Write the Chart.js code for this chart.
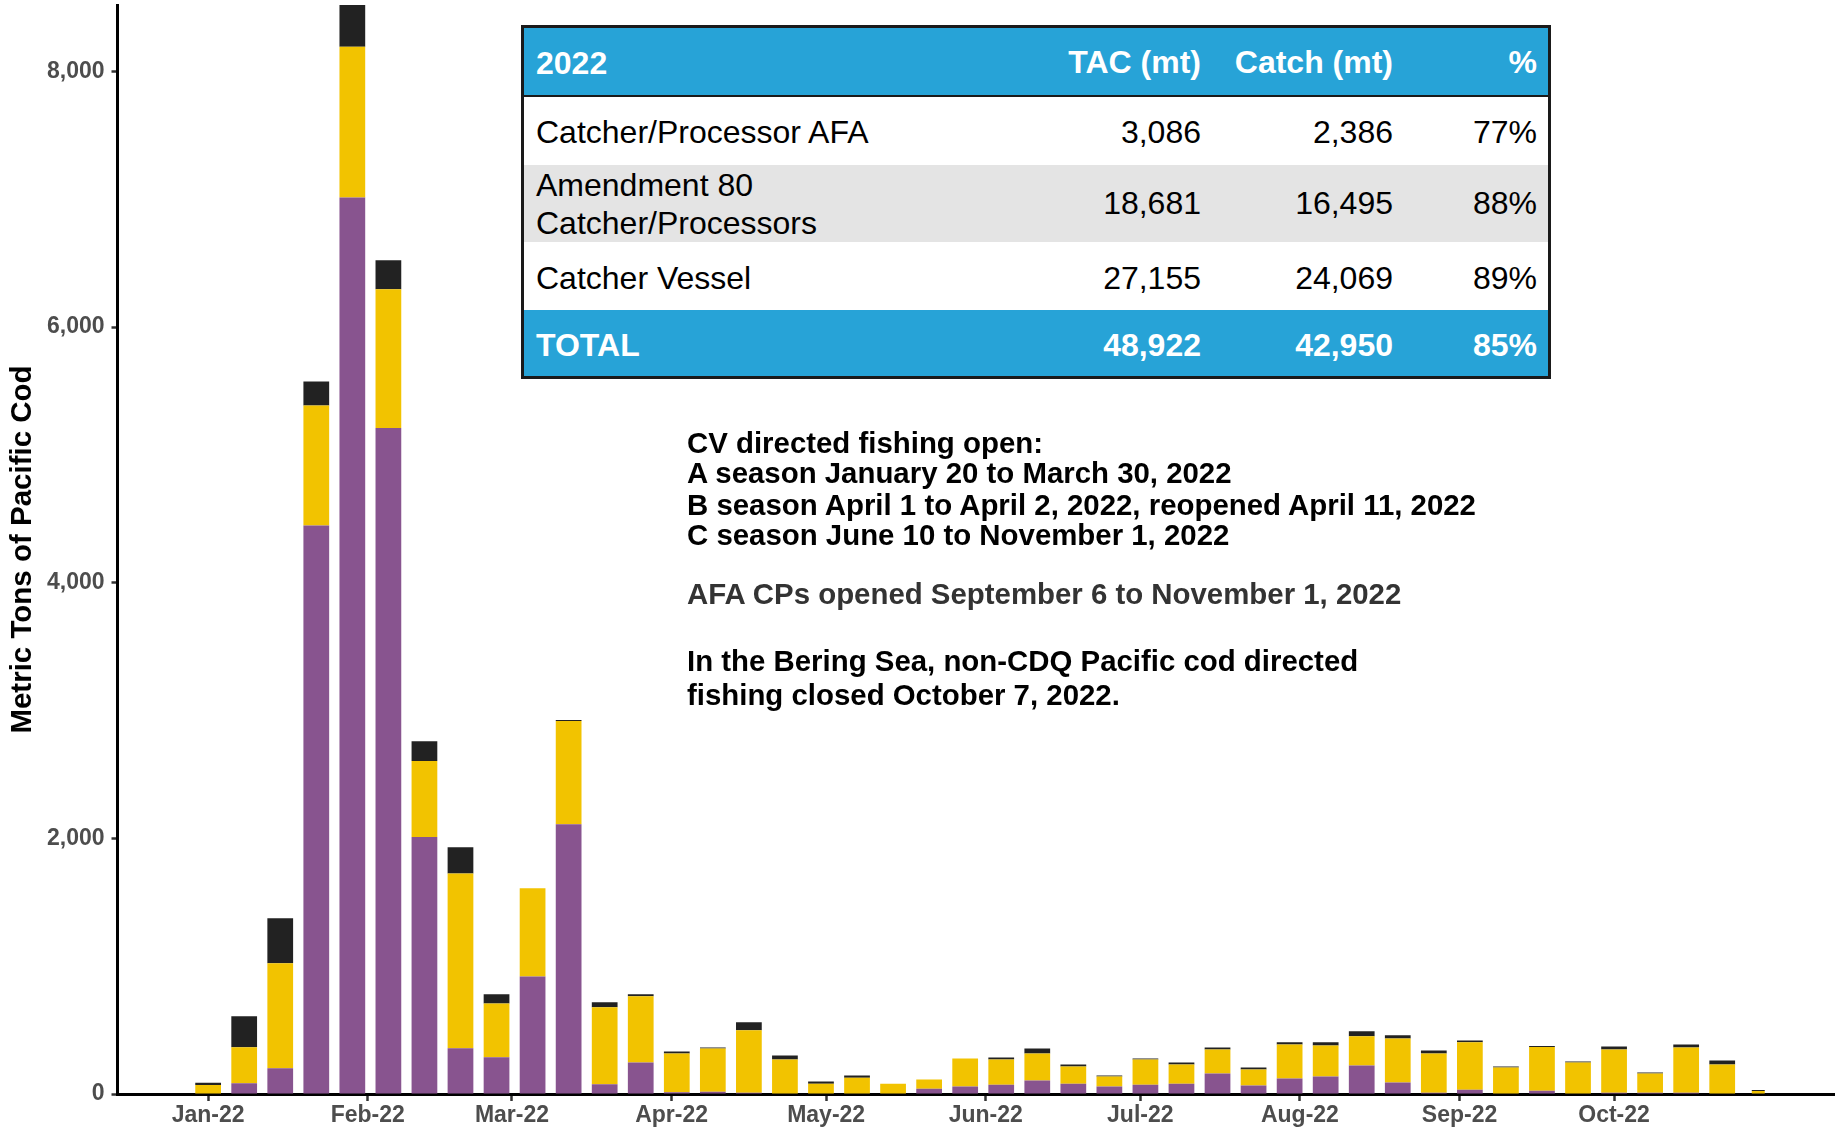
<!DOCTYPE html>
<html>
<head>
<meta charset="utf-8">
<script src="https://cdn.jsdelivr.net/npm/chart.js@4.4.0/dist/chart.umd.min.js"></script>
<style>
  html, body { margin: 0; padding: 0; background: #fff; }
  #wrap { position: relative; width: 1835px; height: 1127px; overflow: hidden; font-family: "Liberation Sans", Arial, sans-serif; }
  #chart { position: absolute; left: 0; top: 0; }
  #tbl { position: absolute; left: 521px; top: 25px; width: 1030px; height: 354px; border: 3px solid #1a1a1a; box-sizing: border-box; background: #fff; }
  .row { position: absolute; left: 0; width: 1024px; }
  .cell { position: absolute; display: flex; align-items: center; font-size: 32px; white-space: nowrap; }
  .hdr { color: #fff; font-weight: bold; }
  .note { position: absolute; left: 687px; font-size: 29.4px; font-weight: bold; line-height: 30px; white-space: nowrap; }
</style>
</head>
<body>
<div id="wrap">
  <canvas id="chart" width="1835" height="1127"></canvas>
  <div id="tbl"></div>
  <div id="notes"></div>
</div>
<script>
// ---------------- DATA ----------------
const weekEnding = [
  "2022-01-01","2022-01-08","2022-01-15","2022-01-22","2022-01-29",
  "2022-02-05","2022-02-12","2022-02-19","2022-02-26",
  "2022-03-05","2022-03-12","2022-03-19","2022-03-26",
  "2022-04-02","2022-04-09","2022-04-16","2022-04-23","2022-04-30",
  "2022-05-07","2022-05-14","2022-05-21","2022-05-28",
  "2022-06-04","2022-06-11","2022-06-18","2022-06-25",
  "2022-07-02","2022-07-09","2022-07-16","2022-07-23","2022-07-30",
  "2022-08-06","2022-08-13","2022-08-20","2022-08-27",
  "2022-09-03","2022-09-10","2022-09-17","2022-09-24",
  "2022-10-01","2022-10-08","2022-10-15","2022-10-22","2022-10-29"
];
// Catcher Vessel (purple)
const catcherVessel = [
  0, 85, 202, 4448, 7013,
  5211, 2010, 357, 287,
  920, 2110, 76, 246,
  13, 18, 10, 3, 0,
  0, 0, 42, 58,
  73, 105, 81, 58,
  73, 81, 160, 66, 121,
  136, 223, 89, 10,
  34, 0, 26, 0,
  10, 10, 10, 0, 0
];
// Amendment 80 Catcher/Processors (yellow)
const amendment80 = [
  70, 281, 820, 939, 1180,
  1086, 595, 1369, 422,
  689, 809, 603, 519,
  304, 338, 488, 267, 81,
  128, 81, 71, 220,
  197, 212, 134, 78,
  197, 150, 189, 125, 267,
  244, 228, 346, 307,
  370, 207, 341, 246,
  339, 150, 354, 231, 23
];
// Catcher/Processor AFA (black)
const afaCP = [
  18, 243, 353, 188, 327,
  226, 155, 205, 71,
  0, 8, 39, 16,
  16, 8, 63, 31, 16,
  16, 0, 0, 0,
  16, 39, 16, 8,
  8, 15, 15, 16, 16,
  24, 39, 24, 24,
  15, 8, 8, 8,
  23, 8, 24, 31, 8
];
const lastWeekPartial = true; // final week drawn as a partial (narrow) bar

const monthStarts = ["2022-01-01","2022-02-01","2022-03-01","2022-04-01","2022-05-01",
                     "2022-06-01","2022-07-01","2022-08-01","2022-09-01","2022-10-01"];
const monthLabels = ["Jan-22","Feb-22","Mar-22","Apr-22","May-22","Jun-22","Jul-22","Aug-22","Sep-22","Oct-22"];
const yTicks = [0, 2000, 4000, 6000, 8000];
const yAxisMax = 8520;
const xAxisMinDay = -17.6, xAxisMaxDay = 315.9; // days relative to 2022-01-01

const tableHeader = ["2022", "TAC (mt)", "Catch (mt)", "%"];
const tableRows = [
  ["Catcher/Processor AFA", "3,086", "2,386", "77%"],
  ["Amendment 80<br>Catcher/Processors", "18,681", "16,495", "88%"],
  ["Catcher Vessel", "27,155", "24,069", "89%"]
];
const tableTotal = ["TOTAL", "48,922", "42,950", "85%"];

const noteLines = [
  {text: "CV directed fishing open:", color: "#000"},
  {text: "A season January 20 to March 30, 2022", color: "#000"},
  {text: "B season April 1 to April 2, 2022, reopened April 11, 2022", color: "#000"},
  {text: "C season June 10 to November 1, 2022", color: "#000"},
  {text: "AFA CPs opened September 6 to November 1, 2022", color: "#333"},
  {text: "In the Bering Sea, non-CDQ Pacific cod directed", color: "#000"},
  {text: "fishing closed October 7, 2022.", color: "#000"}
];

// ---------------- STYLES / LAYOUT ----------------
const FONT = "'Liberation Sans', Arial, sans-serif";
const seriesStyle = [
  {label: "Catcher Vessel", values: catcherVessel, color: "#88548f"},
  {label: "Amendment 80 Catcher/Processors", values: amendment80, color: "#f2c300"},
  {label: "Catcher/Processor AFA", values: afaCP, color: "#222222"}
];
const noteTops = [428, 458, 490, 520, 579, 646, 680];

// ---------------- BUILD ----------------
const day0 = Date.UTC(2022, 0, 1);
function dayOf(s) { const p = s.split("-").map(Number); return (Date.UTC(p[0], p[1]-1, p[2]) - day0) / 86400000; }
const weekDays = weekEnding.map(dayOf);
const monthDays = monthStarts.map(dayOf);
const nMain = lastWeekPartial ? weekDays.length - 1 : weekDays.length;

const datasets = [];
seriesStyle.forEach(s => {
  datasets.push({
    label: s.label,
    data: weekDays.slice(0, nMain).map((d, i) => ({x: d, y: s.values[i]})),
    backgroundColor: s.color, borderWidth: 0, stack: "s",
    barPercentage: 0.714, categoryPercentage: 1.0
  });
});
if (lastWeekPartial) {
  seriesStyle.forEach(s => {
    datasets.push({
      label: s.label + " (partial week)",
      data: weekDays.slice(nMain).map((d, i) => ({x: d, y: s.values[nMain + i]})),
      backgroundColor: s.color, borderWidth: 0, stack: "s",
      barPercentage: 0.36, categoryPercentage: 1.0
    });
  });
}

Chart.defaults.font.family = FONT;
new Chart(document.getElementById("chart"), {
  type: "bar",
  data: { datasets },
  options: {
    responsive: false, animation: false, devicePixelRatio: 1,
    layout: { padding: { top: 5, right: 0, bottom: 0, left: 0 } },
    plugins: { legend: { display: false }, tooltip: { enabled: false } },
    scales: {
      x: {
        type: "linear", stacked: true, offset: false,
        min: xAxisMinDay, max: xAxisMaxDay,
        afterBuildTicks: s => { s.ticks = monthDays.map(v => ({value: v})); },
        afterFit: s => { s.height = 33; s.paddingLeft = 0; s.paddingRight = 0; },
        ticks: { autoSkip: false, maxRotation: 0, minRotation: 0, padding: 1, color: "#4d4d4d",
                 font: { family: FONT, size: 23, weight: "bold" },
                 callback: (v, i) => monthLabels[i] },
        grid: { display: true, offset: false, drawOnChartArea: false, drawTicks: true, tickLength: 7, tickColor: "#333", tickWidth: 2.5 },
        border: { display: true, color: "#000", width: 3 }
      },
      y: {
        stacked: true, min: 0, max: yAxisMax,
        afterBuildTicks: s => { s.ticks = yTicks.map(v => ({value: v})); },
        afterFit: s => { s.width = 117.5; s.paddingTop = 0; s.paddingBottom = 0; },
        ticks: { padding: 7, color: "#4d4d4d", font: { family: FONT, size: 23, weight: "bold" },
                 callback: v => String(v).replace(/\B(?=(\d{3})+(?!\d))/g, ",") },
        grid: { display: true, drawOnChartArea: false, drawTicks: true, tickLength: 6, tickColor: "#333", tickWidth: 2.5 },
        border: { display: true, color: "#000", width: 3 },
        title: { display: true, text: "Metric Tons of Pacific Cod", color: "#000",
                 font: { family: FONT, size: 29.5, weight: "bold" }, padding: { top: 5, bottom: 0 } }
      }
    }
  }
});

// ---------------- TABLE ----------------
const tbl = document.getElementById("tbl");
const rowGeom = [ // top, height, background, text offset
  {top: 0, h: 67, bg: "#27a3d7", hdr: true, borderBottom: true, dy: 1},
  {top: 69, h: 68, bg: "#ffffff", dy: 1},
  {top: 137, h: 77, bg: "#e4e4e4", dy: 0},
  {top: 214, h: 68, bg: "#ffffff", dy: 2},
  {top: 282, h: 66, bg: "#27a3d7", hdr: true, dy: 2}
];
const colRight = [null, 347, 155, 11];
const allRows = [tableHeader, ...tableRows, tableTotal];
allRows.forEach((cells, r) => {
  const g = rowGeom[r];
  const row = document.createElement("div");
  row.className = "row";
  row.style.top = g.top + "px";
  row.style.height = g.h + "px";
  row.style.background = g.bg;
  if (g.borderBottom) { row.style.borderBottom = "2px solid #1a1a1a"; }
  cells.forEach((c, j) => {
    const cell = document.createElement("div");
    cell.className = "cell" + (g.hdr ? " hdr" : "");
    if (!g.hdr) cell.style.color = "#000";
    if (j === 0) { cell.style.left = "12px"; cell.style.lineHeight = "38px"; }
    else { cell.style.right = colRight[j] + "px"; }
    cell.style.top = g.dy + "px";
    cell.style.height = g.h + "px";
    cell.innerHTML = c;
    row.appendChild(cell);
  });
  tbl.appendChild(row);
});

// ---------------- NOTES ----------------
const notes = document.getElementById("notes");
noteLines.forEach((n, i) => {
  const d = document.createElement("div");
  d.className = "note";
  d.style.top = noteTops[i] + "px";
  d.style.color = n.color;
  d.textContent = n.text;
  notes.appendChild(d);
});
</script>
</body>
</html>
